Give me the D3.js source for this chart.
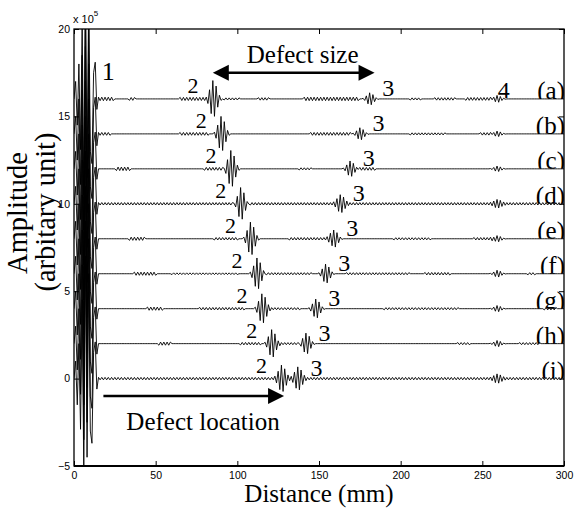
<!DOCTYPE html>
<html>
<head>
<meta charset="utf-8">
<script src="https://cdn.jsdelivr.net/npm/d3@7"></script>
<style>
  body { margin: 0; background: #fff; }
  svg { display: block; }
</style>
</head>
<body>
<svg id="chart" width="574" height="509"></svg>
<script>
// ---- data (amplitude in units of 1e5) ----
var traceLabels = ["(a)", "(b)", "(c)", "(d)", "(e)", "(f)", "(g)", "(h)", "(i)"];
var traceOffsets = [16, 14, 12, 10, 8, 6, 4, 2, 0];

// echo 2 = front of defect, echo 3 = back of defect, echo 4 = plate end
var echo2Pos = [86, 91, 97, 103, 109, 113, 116, 122, 128];
var echo2Amp = [1.05, 1.0, 1.05, 1.0, 0.95, 0.9, 0.85, 0.8, 0.7];
var echo3Pos = [182, 176, 170, 164, 160, 155, 149, 143, 138];
var echo3Amp = [0.35, 0.35, 0.45, 0.45, 0.5, 0.55, 0.55, 0.6, 0.6];
var echo4Pos = [260, 260, 260, 260, 260, 260, 260, 260, 260];
var echo4Amp = [0.2, 0.16, 0.16, 0.18, 0.18, 0.2, 0.18, 0.18, 0.2];

// sample spacing (mm) of the digitised signal
var sampleStep = 1.0;
// initial pulse (echo 1), one value per sample from x = 0
var pulseShape = [0, 1.0, -1.5, 2.0, -2.9, 4.5, -5.5, 7.0, -4.5, 6.0, -3.0, -3.7, 1.5, 2.1, -0.6, 0];
// tone burst, normalised, one value per sample
var burstShape = [0.1, -0.25, 0.5, -0.8, 1, -0.95, 0.7, -0.45, 0.2, -0.08];

// small ripples on each trace: [from mm, to mm, amplitude]
var ripples = [
  [[15, 24, 0.1], [34, 37, 0.08], [65, 80, 0.09], [92, 101, 0.06], [113, 119, 0.07], [141, 174, 0.1], [206, 212, 0.06], [221, 233, 0.07], [240, 255, 0.08]],
  [[14, 22, 0.08], [65, 82, 0.08], [145, 169, 0.08], [206, 227, 0.06], [249, 255, 0.07]],
  [[26, 34, 0.1], [80, 92, 0.08], [138, 145, 0.06], [175, 184, 0.08]],
  [[15, 300, 0.07]],
  [[34, 43, 0.09], [86, 100, 0.07], [132, 157, 0.07], [196, 218, 0.06], [245, 256, 0.07]],
  [[37, 50, 0.09], [60, 100, 0.05], [117, 145, 0.06], [167, 205, 0.06], [215, 230, 0.07], [278, 282, 0.06]],
  [[45, 54, 0.09], [77, 104, 0.07], [117, 138, 0.06], [190, 235, 0.06], [288, 295, 0.07]],
  [[52, 59, 0.09], [102, 114, 0.07], [126, 138, 0.06], [235, 242, 0.06], [273, 285, 0.06]],
  [[15, 300, 0.07]]
];

var xTicks = [0, 50, 100, 150, 200, 250, 300];
var yTicks = [-5, 0, 5, 10, 15, 20];

// ---- layout ----
var svg = d3.select("#chart");
var x = d3.scaleLinear().domain([0, 300]).range([74, 564]);
var y = d3.scaleLinear().domain([-5, 20]).range([466, 29]);
var serif = "'Liberation Serif', 'Times New Roman', serif";
var sans = "'Liberation Sans', Arial, sans-serif";

svg.append("defs").append("clipPath").attr("id", "plotClip")
  .append("rect")
  .attr("x", x(0)).attr("y", y(20))
  .attr("width", x(300) - x(0)).attr("height", y(-5) - y(20));

// build one trace from the echo tables
function buildTrace(i) {
  var n = Math.round(300 / sampleStep) + 1;
  var vals = new Array(n).fill(0);
  pulseShape.forEach(function(v, k) { vals[k] += v; });
  ripples[i].forEach(function(r) {
    for (var k = Math.ceil(r[0] / sampleStep); k <= Math.floor(r[1] / sampleStep) && k < n; k++) {
      vals[k] += (k % 2 ? 1 : -1) * r[2];
    }
  });
  [[echo2Pos[i], echo2Amp[i]], [echo3Pos[i], echo3Amp[i]], [echo4Pos[i], echo4Amp[i]]].forEach(function(e) {
    var start = Math.round(e[0] / sampleStep) - burstShape.length / 2;
    burstShape.forEach(function(b, j) { vals[start + j] += e[1] * b; });
  });
  return vals.map(function(v, k) { return [k * sampleStep, traceOffsets[i] + v]; });
}

var line = d3.line()
  .x(function(d) { return x(d[0]); })
  .y(function(d) { return y(d[1]); });

// trace labels (a)..(i), cut at the trace line like in the figure
traceLabels.forEach(function(lab, i) {
  var cid = "labClip" + i;
  svg.select("defs").append("clipPath").attr("id", cid)
    .append("rect").attr("x", x(0)).attr("y", y(traceOffsets[i]) - 30)
    .attr("width", x(300) - x(0)).attr("height", 30);
  svg.append("text")
    .attr("clip-path", "url(#" + cid + ")")
    .attr("x", x(300) + 1).attr("y", y(traceOffsets[i]))
    .attr("text-anchor", "end")
    .style("font-family", serif).style("font-size", "25px")
    .text(lab);
});

var traces = svg.append("g").attr("clip-path", "url(#plotClip)");
traceLabels.forEach(function(lab, i) {
  traces.append("path")
    .datum(buildTrace(i))
    .attr("d", line)
    .style("fill", "none")
    .style("stroke", "#000")
    .style("stroke-width", 0.9);
});

// echo number labels
var ann = svg.append("g").style("font-family", serif);
ann.append("text").attr("x", x(17)).attr("y", y(17.1))
  .style("font-size", "26px").text("1");
traceLabels.forEach(function(lab, i) {
  ann.append("text")
    .attr("x", x(echo2Pos[i]) - 16).attr("y", y(traceOffsets[i]) - 5.5)
    .attr("text-anchor", "end").style("font-size", "22px").text("2");
  ann.append("text")
    .attr("x", x(echo3Pos[i]) + 11).attr("y", y(traceOffsets[i]) - 3)
    .style("font-size", "24px").text("3");
});
ann.append("text").attr("x", x(echo4Pos[0]) - 1).attr("y", y(traceOffsets[0]) - 1)
  .style("font-size", "24px").text("4");

// arrows
function arrowHead(g, tipX, tipY, dir) {
  g.append("path")
    .attr("d", "M" + tipX + "," + tipY + "L" + (tipX - dir * 16) + "," + (tipY - 8) +
      "L" + (tipX - dir * 16) + "," + (tipY + 8) + "Z")
    .style("fill", "#000");
}
var arr = svg.append("g");
arr.append("line")
  .attr("x1", x(85) + 10).attr("x2", x(184) - 10)
  .attr("y1", y(17.5)).attr("y2", y(17.5))
  .style("stroke", "#000").style("stroke-width", 2.5);
arrowHead(arr, x(85), y(17.5), -1);
arrowHead(arr, x(184), y(17.5), 1);
ann.append("text").attr("x", x(140)).attr("y", y(18.05))
  .attr("text-anchor", "middle").style("font-size", "25px").text("Defect size");

arr.append("line")
  .attr("x1", x(18)).attr("x2", x(128.6) - 10)
  .attr("y1", y(-1)).attr("y2", y(-1))
  .style("stroke", "#000").style("stroke-width", 2.5);
arrowHead(arr, x(128.6), y(-1), 1);
ann.append("text").attr("x", x(79)).attr("y", y(-2.92))
  .attr("text-anchor", "middle").style("font-size", "25px").text("Defect location");

// axes (ticks inward, frame box)
function styleAxis(g) {
  g.select(".domain").remove();
  g.selectAll(".tick line").style("stroke", "#000").style("stroke-width", 1);
  g.selectAll("text").style("font-family", sans).style("font-size", "10.5px").style("fill", "#000");
}
svg.append("g").attr("transform", "translate(0," + y(-5) + ")")
  .call(d3.axisBottom(x).tickValues(xTicks).tickSize(-5).tickPadding(6))
  .call(styleAxis);
svg.append("g").attr("transform", "translate(0," + y(20) + ")")
  .call(d3.axisTop(x).tickValues(xTicks).tickSize(-5).tickFormat(""))
  .call(styleAxis);
svg.append("g").attr("transform", "translate(" + x(0) + ",0)")
  .call(d3.axisLeft(y).tickValues(yTicks).tickSize(-5).tickPadding(4))
  .call(styleAxis);
svg.append("g").attr("transform", "translate(" + x(300) + ",0)")
  .call(d3.axisRight(y).tickValues(yTicks).tickSize(-5).tickFormat(""))
  .call(styleAxis);

svg.append("rect")
  .attr("x", x(0)).attr("y", y(20))
  .attr("width", x(300) - x(0)).attr("height", y(-5) - y(20))
  .style("fill", "none").style("stroke", "#000").style("stroke-width", 1.3);
svg.append("line")
  .attr("x1", x(0)).attr("x2", x(300)).attr("y1", y(-5)).attr("y2", y(-5))
  .style("stroke", "#000").style("stroke-width", 2);

// exponent note
var expo = svg.append("text").attr("x", x(0) - 1).attr("y", y(20) - 6)
  .style("font-family", sans).style("font-size", "11px");
expo.append("tspan").text("x 10");
expo.append("tspan").attr("dy", -7).style("font-size", "8px").text("5");

// axis titles
svg.append("text").attr("x", 319).attr("y", 502)
  .attr("text-anchor", "middle")
  .style("font-family", serif).style("font-size", "25px")
  .text("Distance (mm)");
svg.append("text").attr("transform", "translate(27,213) rotate(-90)")
  .attr("text-anchor", "middle")
  .style("font-family", serif).style("font-size", "28.5px")
  .text("Amplitude");
svg.append("text").attr("transform", "translate(55,212) rotate(-90)")
  .attr("text-anchor", "middle")
  .style("font-family", serif).style("font-size", "28.5px")
  .text("(arbitary unit)");
</script>
</body>
</html>
